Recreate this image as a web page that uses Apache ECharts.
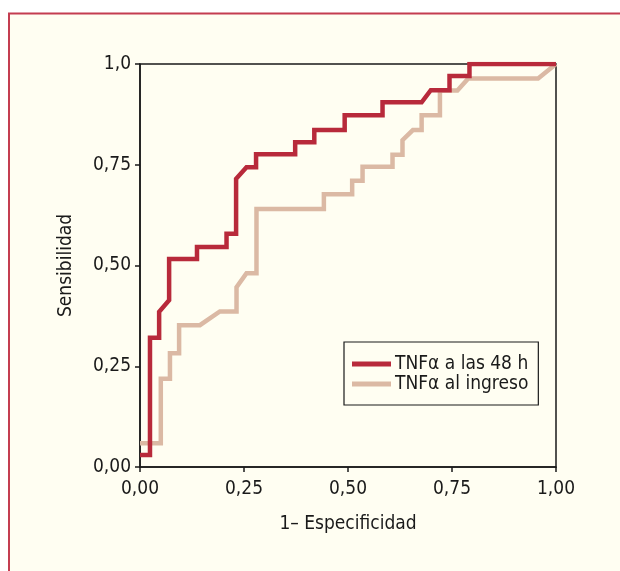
<!DOCTYPE html>
<html><head><meta charset="utf-8">
<script src="https://cdn.jsdelivr.net/npm/echarts@6/dist/echarts.min.js"></script>
<style>html,body{margin:0;padding:0;background:#fff;}#c{width:620px;height:571px;}</style>
</head><body><div id="c"></div>
<script>
// ROC curve points: 1-Especificidad (x) and Sensibilidad (y)
const seriesNames = ['TNF\u03b1 a las 48 h', 'TNF\u03b1 al ingreso'];
const fpr48 = [0,0.024,0.024,0.046,0.046,0.070,0.070,0.137,0.137,0.208,0.208,0.231,0.231,0.256,0.279,0.279,0.373,0.373,0.419,0.419,0.492,0.492,0.583,0.583,0.677,0.699,0.744,0.744,0.792,0.792,1.0];
const tpr48 = [0.03,0.03,0.321,0.321,0.385,0.414,0.516,0.516,0.546,0.546,0.579,0.579,0.715,0.744,0.744,0.776,0.776,0.806,0.806,0.836,0.836,0.873,0.873,0.905,0.905,0.935,0.935,0.970,0.970,1.0,1.0];
const fprIng = [0,0.050,0.050,0.072,0.072,0.094,0.094,0.144,0.192,0.232,0.232,0.256,0.280,0.280,0.442,0.442,0.510,0.510,0.535,0.535,0.607,0.607,0.631,0.631,0.656,0.677,0.677,0.721,0.721,0.763,0.789,0.957,1.0];
const tprIng = [0.059,0.059,0.219,0.219,0.282,0.282,0.352,0.352,0.386,0.386,0.446,0.481,0.481,0.640,0.640,0.677,0.677,0.710,0.710,0.745,0.745,0.775,0.775,0.811,0.836,0.836,0.873,0.873,0.934,0.934,0.964,0.964,1.0];
const xTicks = ['0,00','0,25','0,50','0,75','1,00'];
const yTicks = ['0,00','0,25','0,50','0,75','1,0'];
const xName = '1\u2013 Especificidad';
const yName = 'Sensibilidad';

const FONT = '"Liberation Sans Narrow","DejaVu Sans Condensed",Arial,sans-serif';
const zip = (a,b)=>a.map((v,i)=>[v,b[i]]);
const tickFmt = arr => v => { const i = Math.round(v/0.25); return arr[i] !== undefined ? arr[i] : ''; };

const chart = echarts.init(document.getElementById('c'), null, {renderer:'canvas'});
chart.setOption({
  animation:false,
  backgroundColor:'#ffffff',
  graphic:[{type:'rect', z:-10, shape:{x:9,y:13.5,width:700,height:700}, style:{fill:'#fffef2', stroke:'#c43d50', lineWidth:2}}],
  grid:{left:140, top:64, width:416, height:403, show:true, borderColor:'#1a1a1a', borderWidth:1.5, backgroundColor:'transparent'},
  xAxis:{type:'value', min:0, max:1, interval:0.25,
    name:xName, nameLocation:'middle', nameGap:48,
    nameTextStyle:{fontFamily:FONT, fontSize:19, color:'#1a1a1a'},
    axisLine:{lineStyle:{color:'#1a1a1a', width:1.5}},
    axisTick:{show:true, inside:false, length:5, lineStyle:{color:'#1a1a1a', width:1.5}},
    axisLabel:{formatter:tickFmt(xTicks), fontFamily:FONT, fontSize:19, color:'#1a1a1a', margin:13},
    splitLine:{show:false}},
  yAxis:{type:'value', min:0, max:1, interval:0.25,
    name:yName, nameLocation:'middle', nameGap:64, nameRotate:90,
    nameTextStyle:{fontFamily:FONT, fontSize:19, color:'#1a1a1a'},
    axisLine:{show:true, lineStyle:{color:'#1a1a1a', width:1.5}},
    axisTick:{show:true, inside:false, length:5, lineStyle:{color:'#1a1a1a', width:1.5}},
    axisLabel:{formatter:tickFmt(yTicks), fontFamily:FONT, fontSize:19, color:'#1a1a1a', margin:9},
    splitLine:{show:false}},
  legend:{orient:'vertical', left:344, top:342,
    backgroundColor:'#fffef2', borderColor:'#1a1a1a', borderWidth:1.2,
    padding:[12,10,11,8], itemGap:0, itemWidth:39, itemHeight:5, icon:'rect',
    textStyle:{fontFamily:FONT, fontSize:19, color:'#1a1a1a', lineHeight:20, padding:[0,0,0,-1]},
    data:[seriesNames[0], seriesNames[1]]},
  series:[
    {name:seriesNames[1], type:'line', data:zip(fprIng,tprIng), showSymbol:false, symbol:'none', z:2,
     lineStyle:{color:'#dbb9a4', width:4.5, join:'miter'}, itemStyle:{color:'#dbb9a4'}},
    {name:seriesNames[0], type:'line', data:zip(fpr48,tpr48), showSymbol:false, symbol:'none', z:3,
     lineStyle:{color:'#b82a3b', width:4.5, join:'miter'}, itemStyle:{color:'#b82a3b'}}
  ]
});
</script></body></html>
